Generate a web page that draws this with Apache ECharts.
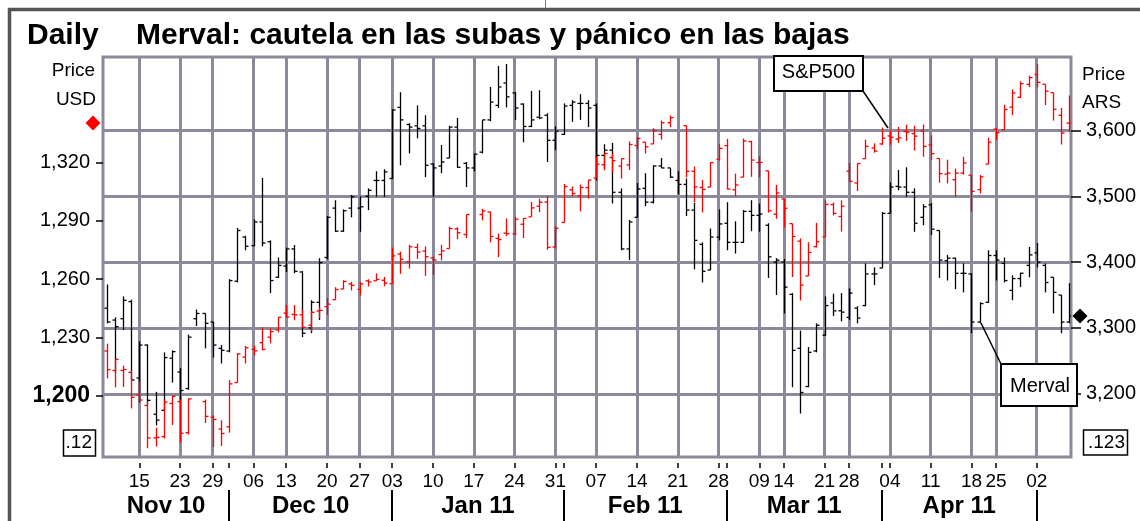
<!DOCTYPE html>
<html>
<head>
<meta charset="utf-8">
<script src="https://cdn.jsdelivr.net/npm/echarts@6/dist/echarts.min.js"></script>
<style>
html, body { margin: 0; padding: 0; background: #fff; }
#main { width: 1140px; height: 521px; }
</style>
</head>
<body>
<div id="main"></div>
<script>
// trading days (Buenos Aires calendar)
var dates = [
  '2010-11-09','2010-11-10','2010-11-11','2010-11-12',
  '2010-11-15','2010-11-16','2010-11-17','2010-11-18','2010-11-19',
  '2010-11-23','2010-11-24','2010-11-25','2010-11-26',
  '2010-11-29','2010-11-30','2010-12-01','2010-12-02','2010-12-03',
  '2010-12-06','2010-12-07','2010-12-09','2010-12-10',
  '2010-12-13','2010-12-14','2010-12-15','2010-12-16','2010-12-17',
  '2010-12-20','2010-12-21','2010-12-22','2010-12-23',
  '2010-12-27','2010-12-28','2010-12-29','2010-12-30',
  '2011-01-03','2011-01-04','2011-01-05','2011-01-06','2011-01-07',
  '2011-01-10','2011-01-11','2011-01-12','2011-01-13','2011-01-14',
  '2011-01-17','2011-01-18','2011-01-19','2011-01-20','2011-01-21',
  '2011-01-24','2011-01-25','2011-01-26','2011-01-27','2011-01-28',
  '2011-01-31','2011-02-01','2011-02-02','2011-02-03','2011-02-04',
  '2011-02-07','2011-02-08','2011-02-09','2011-02-10','2011-02-11',
  '2011-02-14','2011-02-15','2011-02-16','2011-02-17','2011-02-18',
  '2011-02-21','2011-02-22','2011-02-23','2011-02-24','2011-02-25',
  '2011-02-28','2011-03-01','2011-03-02','2011-03-03','2011-03-04',
  '2011-03-09','2011-03-10','2011-03-11',
  '2011-03-14','2011-03-15','2011-03-16','2011-03-17','2011-03-18',
  '2011-03-21','2011-03-22','2011-03-23',
  '2011-03-28','2011-03-29','2011-03-30','2011-03-31','2011-04-01',
  '2011-04-04','2011-04-05','2011-04-06','2011-04-07','2011-04-08',
  '2011-04-11','2011-04-12','2011-04-13','2011-04-14','2011-04-15',
  '2011-04-18','2011-04-19','2011-04-20',
  '2011-04-25','2011-04-26','2011-04-27','2011-04-28','2011-04-29',
  '2011-05-02','2011-05-03','2011-05-04','2011-05-05','2011-05-06'
];

// S&P500 (USD, left axis) - null where NYSE was closed
var spOpen = [
  1223, 1213, 1213, 1212, 1200.4, 1195, 1178.3, 1179, 1196, 1197,
  1181, null, 1197, 1189, 1182.9, 1184, 1206.8, 1219.9, 1223.9, 1227.3,
  1230.1, 1233.9, 1242.5, 1241.8, 1241.6, 1236.3, 1243.6, 1245.8, 1249.4, 1254.9,
  1257.5, 1254.7, 1259.1, 1259.1, 1259.4, 1257.6, 1272.9, 1268.8, 1276.3, 1274.4,
  1270.8, 1272.6, 1275.7, 1285.8, 1282.9, null, 1293.2, 1294.5, 1280.9, 1283.6,
  1283.3, 1288.2, 1292, 1297.5, 1299.6, 1276.5, 1289.1, 1305.9, 1302.8, 1307,
  1311.9, 1318.8, 1322.5, 1318.1, 1318.7, 1328.7, 1330.4, 1329.5, 1334.4, 1340.4,
  null, 1338.9, 1315.4, 1307.1, 1307.3, 1321.6, 1328.6, 1305.9, 1312.4, 1330.7,
  1319.9, 1315.7, 1293.4, 1301.2, 1288.5, 1279.5, 1261.6, 1276.7, 1281.7, 1298.3,
  1292.2, 1315.5, 1309.4, 1321.9, 1327.4, 1329.5, 1333.6, 1332, 1335.9, 1334.8,
  1336.2, 1329, 1322, 1314, 1311.1, 1314.5, 1313.4, 1306, 1319.1, 1337.1,
  1336.8, 1348.4, 1353.5, 1360.1, 1365.2, 1360.2, 1355.9, 1344.2, 1340.2
];
var spHigh = [
  1226.8, 1218.8, 1215.5, 1213, 1207.4, 1197, 1183.6, 1198, 1200, 1198,
  1198.6, null, 1198, 1190, 1187.4, 1208, 1221.9, 1225.6, 1225.8, 1235.1,
  1234.7, 1240.4, 1246.7, 1246.6, 1244.3, 1243.8, 1245.8, 1250.2, 1255.8, 1259.4,
  1258.6, 1258.4, 1259.9, 1262.9, 1261.1, 1276.2, 1274.1, 1277.6, 1278.2, 1276.8,
  1271.5, 1277.6, 1286.9, 1286.7, 1293.2, null, 1296.1, 1294.6, 1283.4, 1291.2,
  1291.9, 1291.3, 1299.7, 1301.3, 1302.7, 1287.2, 1308.9, 1307.6, 1308.6, 1311,
  1322.9, 1324.9, 1324.6, 1322, 1330.8, 1333, 1330.4, 1337.6, 1341.5, 1344.1,
  null, 1338.9, 1317.9, 1310.9, 1320, 1329.4, 1332.1, 1314.2, 1332.3, 1331.1,
  1323.2, 1315.7, 1308.4, 1301.2, 1288.5, 1280.9, 1278.9, 1288.9, 1300.6, 1299.4,
  1300.5, 1319.7, 1319.5, 1331.7, 1329.8, 1337.9, 1336.7, 1338.2, 1339.4, 1338.8,
  1339.5, 1333.8, 1322, 1321.4, 1316.8, 1322.9, 1313.4, 1313.5, 1332.7, 1337.6,
  1349.6, 1357.5, 1361.7, 1364.6, 1370.6, 1360.2, 1355.9, 1348, 1354.4
];
var spLow = [
  1208.9, 1204.3, 1204.5, 1193.5, 1197.2, 1173, 1173.9, 1178, 1185, 1176,
  1180, null, 1186, 1173.6, 1174.1, 1181, 1206.8, 1216.6, 1220.7, 1223.3,
  1226.9, 1232.6, 1240.3, 1238.8, 1234.9, 1232.9, 1239.9, 1241.5, 1249.4, 1254.9,
  1254.1, 1251.5, 1256.2, 1259.1, 1256.3, 1257.6, 1262.7, 1265.4, 1270.4, 1261.7,
  1262.2, 1269.6, 1275.7, 1280.5, 1281.1, null, 1290.2, 1278.9, 1271.3, 1282.1,
  1282.5, 1281.1, 1292, 1294.4, 1275.1, 1275.7, 1289.1, 1302.6, 1294.8, 1301.4,
  1311.9, 1316, 1314.9, 1311.7, 1316.1, 1326.9, 1324.6, 1329.5, 1331.7, 1338.1,
  null, 1312.3, 1299.6, 1294.3, 1307.3, 1320.9, 1306.1, 1302.6, 1312.4, 1312.6,
  1312.3, 1294.2, 1291, 1286.4, 1261.1, 1249, 1261.6, 1276.2, 1281.7, 1292.7,
  1284.4, 1310.2, 1305.3, 1321.9, 1325, 1328.9, 1329.1, 1330, 1331.1, 1326.1,
  1322.9, 1321.1, 1309.5, 1309.2, 1302.4, 1313.7, 1294.7, 1304, 1319.1, 1331.5,
  1336.8, 1344.3, 1353.1, 1358.7, 1358.6, 1349.5, 1341.5, 1329.2, 1335.6
];
var spClose = [
  1213.4, 1218.7, 1213.5, 1199.2, 1197.8, 1178.3, 1178.6, 1196.7, 1199.7, 1180.7,
  1198.4, null, 1189.4, 1187.8, 1180.6, 1206.1, 1221.5, 1224.7, 1223.1, 1223.8,
  1233, 1240.4, 1240.5, 1241.6, 1235.2, 1242.9, 1243.9, 1247.1, 1254.6, 1258.8,
  1256.8, 1257.5, 1258.5, 1259.8, 1257.9, 1271.9, 1270.2, 1276.6, 1273.9, 1271.5,
  1269.8, 1274.5, 1286, 1283.8, 1293.2, null, 1295, 1281.9, 1280.3, 1283.4,
  1290.8, 1291.2, 1296.6, 1299.5, 1276.3, 1286.1, 1307.6, 1304, 1307.1, 1310.9,
  1319.1, 1324.6, 1320.9, 1321.9, 1329.2, 1332.3, 1328, 1336.3, 1340.4, 1343,
  null, 1315.4, 1307.4, 1306.1, 1319.9, 1327.2, 1306.3, 1308.4, 1331, 1321.2,
  1320, 1295.1, 1304.3, 1296.4, 1281.9, 1256.9, 1273.7, 1279.2, 1298.4, 1293.8,
  1297.5, 1310.2, 1319.4, 1328.3, 1325.8, 1332.4, 1332.9, 1332.6, 1335.5, 1333.5,
  1328.2, 1324.5, 1314.2, 1314.5, 1314.5, 1319.7, 1305.1, 1312.6, 1330.4, 1335.3,
  1347.2, 1355.7, 1360.5, 1363.6, 1361.2, 1356.6, 1347.3, 1335.1, 1340.2
];

// Merval (ARS, right axis)
var mvOpen = [
  3330, 3312, 3314, 3340, 3224, 3274, 3169, 3175, 3254, 3233,
  3208, 3314, 3322, 3309, 3269, 3265, 3371, 3438, 3425, 3461,
  3431, 3377, 3394, 3420, 3385, 3300, 3339, 3407, 3482, 3447,
  3482, 3482, 3500, 3524, 3524, 3527, 3635, 3609, 3607, 3607,
  3549, 3546, 3558, 3605, 3550, 3543, 3567, 3616, 3638, 3672,
  3657, 3640, 3606, 3620, 3623, 3585, 3594, 3638, 3641, 3641,
  3638, 3562, 3570, 3506, 3420, 3468, 3512, 3491, 3546, 3543,
  3524, 3518, 3479, 3427, 3388, 3438, 3459, 3430, 3430, 3477,
  3471, 3456, 3400, 3400, 3351, 3269, 3211, 3265, 3289, 3338,
  3326, 3316, 3330, 3334, 3382, 3391, 3474, 3515, 3514, 3506,
  3468, 3487, 3448, 3402, 3406, 3383, 3382, 3309, 3339, 3410,
  3398, 3357, 3375, 3395, 3414, 3395, 3377, 3350, 3309
];
var mvHigh = [
  3366, 3316, 3348, 3343, 3280, 3275, 3203, 3263, 3266, 3239,
  3290, 3328, 3322, 3309, 3274, 3374, 3452, 3440, 3465, 3528,
  3433, 3407, 3422, 3426, 3386, 3342, 3406, 3470, 3494, 3480,
  3502, 3500, 3512, 3538, 3541, 3632, 3658, 3611, 3638, 3623,
  3550, 3578, 3607, 3619, 3552, 3565, 3616, 3666, 3698, 3701,
  3658, 3641, 3660, 3661, 3626, 3606, 3641, 3646, 3655, 3646,
  3641, 3579, 3581, 3512, 3464, 3520, 3535, 3547, 3558, 3543,
  3538, 3527, 3490, 3430, 3451, 3480, 3491, 3462, 3479, 3494,
  3489, 3459, 3406, 3405, 3353, 3296, 3271, 3307, 3348, 3352,
  3353, 3360, 3333, 3398, 3392, 3476, 3521, 3540, 3544, 3512,
  3488, 3490, 3448, 3411, 3407, 3398, 3383, 3339, 3418, 3418,
  3407, 3380, 3384, 3423, 3429, 3398, 3377, 3350, 3368
];
var mvLow = [
  3307, 3232, 3297, 3221, 3187, 3183, 3152, 3175, 3217, 3190,
  3206, 3303, 3269, 3255, 3246, 3263, 3369, 3418, 3424, 3424,
  3353, 3376, 3385, 3383, 3286, 3292, 3312, 3404, 3446, 3446,
  3468, 3446, 3479, 3499, 3499, 3526, 3547, 3565, 3588, 3529,
  3499, 3535, 3558, 3543, 3514, 3538, 3565, 3614, 3634, 3635,
  3616, 3582, 3605, 3617, 3552, 3570, 3593, 3613, 3616, 3605,
  3524, 3543, 3489, 3418, 3403, 3468, 3485, 3489, 3543, 3528,
  3503, 3470, 3389, 3369, 3388, 3433, 3418, 3413, 3429, 3447,
  3446, 3376, 3350, 3322, 3210, 3170, 3210, 3263, 3288, 3318,
  3310, 3312, 3307, 3333, 3365, 3391, 3474, 3509, 3499, 3446,
  3456, 3441, 3376, 3372, 3359, 3354, 3292, 3307, 3338, 3372,
  3369, 3342, 3362, 3377, 3392, 3354, 3322, 3292, 3307
];
var mvClose = [
  3309, 3302, 3342, 3221, 3274, 3190, 3160, 3255, 3264, 3205,
  3286, 3322, 3307, 3274, 3266, 3372, 3448, 3424, 3461, 3429,
  3372, 3395, 3420, 3386, 3292, 3339, 3399, 3468, 3447, 3478,
  3499, 3484, 3509, 3524, 3537, 3631, 3616, 3605, 3603, 3547,
  3543, 3552, 3605, 3544, 3543, 3564, 3616, 3643, 3666, 3651,
  3634, 3606, 3616, 3619, 3585, 3599, 3637, 3643, 3641, 3634,
  3562, 3570, 3506, 3420, 3461, 3511, 3491, 3546, 3543, 3529,
  3518, 3479, 3433, 3386, 3438, 3458, 3430, 3430, 3477, 3471,
  3473, 3408, 3403, 3362, 3266, 3202, 3263, 3304, 3334, 3326,
  3324, 3353, 3315, 3382, 3382, 3474, 3514, 3514, 3506, 3459,
  3484, 3450, 3403, 3406, 3383, 3383, 3309, 3337, 3410, 3403,
  3372, 3375, 3383, 3411, 3400, 3369, 3354, 3309, 3318
];

var leftTicks = [1200, 1230, 1260, 1290, 1320];
var rightTicks = [3200, 3300, 3400, 3500, 3600];
var monthNames = ['Nov 10', 'Dec 10', 'Jan 11', 'Feb 11', 'Mar 11', 'Apr 11'];

var gridColor = '#8b8a9a';
var FONT = '"Liberation Sans", Arial, sans-serif';

// first trading day of every week / month
var weekStarts = [], monthStarts = [];
for (var i = 1; i < dates.length; i++) {
  var a = new Date(dates[i - 1] + 'T00:00:00Z'), b = new Date(dates[i] + 'T00:00:00Z');
  if (b.getUTCDay() <= a.getUTCDay() || (b - a) >= 7 * 864e5) weekStarts.push(i);
  if (b.getUTCMonth() !== a.getUTCMonth()) monthStarts.push(i);
}
var xMin = -0.45, xMax = dates.length - 0.8;
var monthMids = [];
for (var m = 0; m < monthNames.length; m++) {
  var s = m === 0 ? xMin : monthStarts[m - 1];
  monthMids.push((s + monthStarts[m]) / 2);
}

function rows(o, h, l, c) {
  var out = [];
  for (var k = 0; k < dates.length; k++) {
    if (o[k] == null) continue;
    out.push([k, o[k], h[k], l[k], c[k]]);
  }
  return out;
}

function ohlc(color) {
  return function (params, api) {
    var k = api.value(0);
    var o = api.coord([k, api.value(1)]);
    var h = api.coord([k, api.value(2)]);
    var l = api.coord([k, api.value(3)]);
    var c = api.coord([k, api.value(4)]);
    var x = Math.round(h[0]) + 0.5;
    var st = { stroke: color, lineWidth: 1.3 };
    return {
      type: 'group',
      children: [
        { type: 'line', shape: { x1: x, y1: h[1], x2: x, y2: l[1] }, style: st },
        { type: 'line', shape: { x1: x - 3, y1: o[1], x2: x, y2: o[1] }, style: st },
        { type: 'line', shape: { x1: x, y1: c[1], x2: x + 3, y2: c[1] }, style: st }
      ]
    };
  };
}

function comma(v) { return String(v).replace(/\B(?=(\d{3})+(?!\d))/g, ','); }

var myChart = echarts.init(document.getElementById('main'), null, { renderer: 'canvas' });

var option = {
  animation: false,
  backgroundColor: '#fff',
  grid: {
    left: 103, right: 69, top: 57, bottom: 64,
    show: true, borderColor: gridColor, borderWidth: 3, backgroundColor: '#fff'
  },
  xAxis: [{
    type: 'value', min: xMin, max: xMax, position: 'bottom', offset: 6,
    axisLine: { show: false, onZero: false },
    axisTick: { show: true, length: 5, customValues: weekStarts, lineStyle: { color: '#000', width: 1.5 } },
    axisLabel: {
      customValues: weekStarts, margin: 9, color: '#000', fontFamily: FONT, fontSize: 19,
      formatter: function (v) { return dates[v].slice(8); }
    },
    splitLine: { show: true, lineStyle: { color: gridColor, width: 3 } }
  }, {
    type: 'value', min: xMin, max: xMax, position: 'bottom', offset: 6,
    axisLine: { show: false, onZero: false },
    axisTick: { show: true, length: 5, customValues: monthStarts, lineStyle: { color: '#000', width: 1.5 } },
    axisLabel: { show: false },
    splitLine: { show: false }
  }, {
    type: 'value', min: xMin, max: xMax, position: 'bottom', offset: 33,
    axisLine: { show: false, onZero: false },
    axisTick: { show: true, length: 31, customValues: monthStarts, lineStyle: { color: '#000', width: 2 } },
    axisLabel: {
      customValues: monthMids, margin: 4, color: '#000', fontFamily: FONT, fontSize: 24, fontWeight: 'bold',
      formatter: function (v) { return monthNames[monthMids.indexOf(v)]; }
    },
    splitLine: { show: false }
  }],
  yAxis: [{
    type: 'value', position: 'left', min: 1168.5, max: 1374.2,
    axisLine: { show: false, onZero: false },
    axisTick: { show: true, length: 7, customValues: leftTicks, lineStyle: { color: '#000', width: 1.5 } },
    axisLabel: {
      customValues: leftTicks, margin: 13, color: '#000', fontFamily: FONT, fontSize: 20,
      formatter: function (v) { return v === 1200 ? '{b|1,200}' : comma(v); },
      rich: { b: { fontSize: 23, fontWeight: 'bold', color: '#000', fontFamily: FONT } }
    },
    splitLine: { show: false }
  }, {
    type: 'value', position: 'right', min: 3104, max: 3711.5,
    axisLine: { show: false, onZero: false },
    axisTick: { show: true, length: 10, customValues: rightTicks, lineStyle: { color: '#000', width: 1.5 } },
    axisLabel: {
      customValues: rightTicks, margin: 15, color: '#000', fontFamily: FONT, fontSize: 20,
      formatter: function (v) { return comma(v); }
    },
    splitLine: { show: true, lineStyle: { color: gridColor, width: 3 } }
  }],
  series: [{
    name: 'Merval', type: 'custom', xAxisIndex: 0, yAxisIndex: 1, z: 3,
    renderItem: ohlc('#000'), encode: { x: 0, y: [1, 2, 3, 4] },
    data: rows(mvOpen, mvHigh, mvLow, mvClose), clip: true
  }, {
    name: 'S&P500', type: 'custom', xAxisIndex: 0, yAxisIndex: 0, z: 4,
    renderItem: ohlc('#ff0000'), encode: { x: 0, y: [1, 2, 3, 4] },
    data: rows(spOpen, spHigh, spLow, spClose), clip: true
  }]
};
myChart.setOption(option);

// last-close markers on both axes + annotations
var ySp = myChart.convertToPixel({ yAxisIndex: 0 }, spClose[spClose.length - 1]);
var yMv = myChart.convertToPixel({ yAxisIndex: 1 }, mvClose[mvClose.length - 1]);

function txt(t, x, y, size, align, bold) {
  return {
    type: 'text', z: 110,
    style: {
      text: t, x: x, y: y, fill: '#000',
      font: (bold ? 'bold ' : '') + size + 'px ' + FONT,
      align: align, textAlign: align, verticalAlign: 'middle', textVerticalAlign: 'middle'
    }
  };
}
function diamond(cx, cy, r, color) {
  return {
    type: 'polygon', z: 110,
    shape: { points: [[cx, cy - r], [cx + r, cy], [cx, cy + r], [cx - r, cy]] },
    style: { fill: color }
  };
}

myChart.setOption({
  graphic: [
    { type: 'line', z: 100, shape: { x1: 9.5, y1: 8, x2: 9.5, y2: 521 }, style: { stroke: '#555', lineWidth: 3.5 } },
    { type: 'line', z: 100, shape: { x1: 8, y1: 9.5, x2: 1140, y2: 9.5 }, style: { stroke: '#555', lineWidth: 3.5 } },
    { type: 'line', z: 100, shape: { x1: 545.5, y1: 0, x2: 545.5, y2: 8 }, style: { stroke: '#777', lineWidth: 1 } },
    txt('Daily', 27, 36, 30, 'left', true),
    txt('Merval: cautela en las subas y pánico en las bajas', 136, 36, 30, 'left', true),
    txt('Price', 95, 71, 19, 'right'),
    txt('USD', 96, 100, 19, 'right'),
    txt('Price', 1082, 75, 19, 'left'),
    txt('ARS', 1082, 103, 19, 'left'),
    diamond(93, ySp, 7.5, '#ff0000'),
    diamond(1080, yMv, 7.5, '#000'),
    // S&P500 callout
    { type: 'line', z: 105, shape: { x1: 863, y1: 91, x2: 888, y2: 128 }, style: { stroke: '#000', lineWidth: 1.5 } },
    { type: 'rect', z: 106, shape: { x: 774, y: 56, width: 89, height: 35 }, style: { fill: '#fff', stroke: '#000', lineWidth: 2 } },
    txt('S&P500', 818.5, 72, 20, 'center'),
    // Merval callout
    { type: 'line', z: 105, shape: { x1: 981, y1: 323, x2: 1001, y2: 364 }, style: { stroke: '#000', lineWidth: 1.5 } },
    { type: 'rect', z: 106, shape: { x: 1001, y: 364, width: 76, height: 42 }, style: { fill: '#fff', stroke: '#000', lineWidth: 2 } },
    txt('Merval', 1010, 386, 20, 'left'),
    // truncated bottom labels
    { type: 'rect', z: 106, shape: { x: 63.5, y: 430, width: 32, height: 26 }, style: { fill: '#fff', stroke: '#000', lineWidth: 1.5 } },
    txt('.12', 92, 443, 19, 'right'),
    { type: 'rect', z: 106, shape: { x: 1083.5, y: 430, width: 44, height: 25 }, style: { fill: '#fff', stroke: '#000', lineWidth: 1.5 } },
    txt('.123', 1125, 443, 19, 'right')
  ]
});

window.onresize = function () { myChart.resize(); };
</script>
</body>
</html>
